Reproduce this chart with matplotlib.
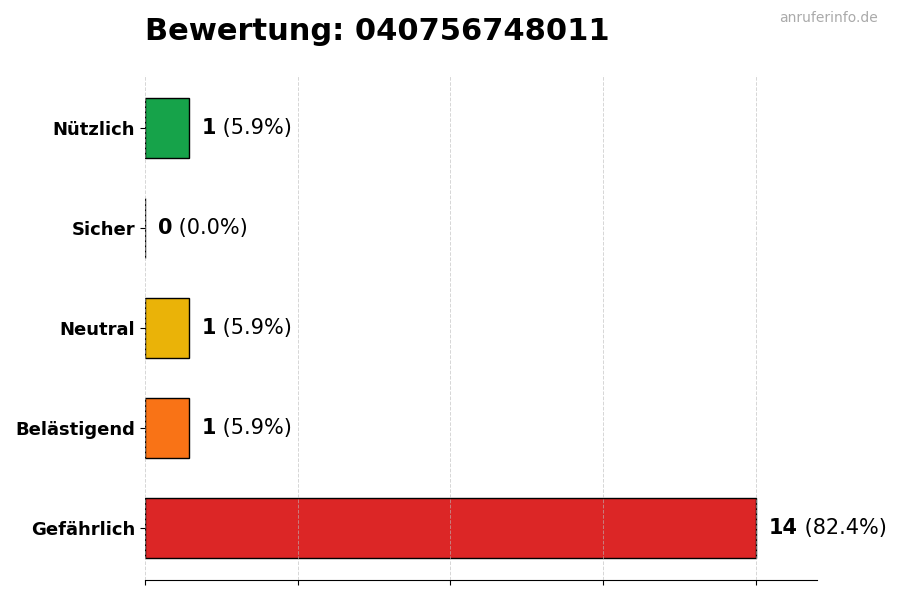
import matplotlib
matplotlib.use('Agg')
import matplotlib.pyplot as plt

categories = ['Gefährlich', 'Belästigend', 'Neutral', 'Sicher', 'Nützlich']
counts = [14, 1, 1, 0, 1]
colors = ['#dc2626', '#f97316', '#eab308', '#3b82f6', '#16a34a']
total = sum(counts)

fig = plt.figure(figsize=(9, 6), dpi=100)
ax = fig.add_axes([0.161, 0.033, 0.747, 0.842])

ax.barh(range(len(categories)), counts, height=0.6, color=colors,
        edgecolor='black', linewidth=1.0, zorder=2)

ax.set_yticks(range(len(categories)))
ax.set_yticklabels(categories, fontsize=13, fontweight='bold')
ax.set_ylim(-0.52, 4.53)

xmax = max(counts)
ax.set_xlim(0, xmax * 1.1)
ax.set_xticks([xmax * i / 4 for i in range(5)])
ax.set_xticklabels([])
# grid is drawn over the bars in the original
ax.set_axisbelow(False)
ax.grid(axis='x', linestyle='--', color='#bbbbbb', alpha=0.6,
        linewidth=0.7)

for s in ['top', 'right', 'left']:
    ax.spines[s].set_visible(False)

# value labels: bold count, then percentage
for i, c in enumerate(counts):
    pct = 100 * c / total
    t = ax.text(c + 0.3, i, str(c), fontsize=15, fontweight='bold',
                va='center', ha='left')
    ax.annotate(f' ({pct:.1f}%)', xy=(1, 0), xycoords=t, fontsize=15,
                va='bottom', ha='left')

fig.text(0.161, 0.948, 'Bewertung: 040756748011', fontsize=22,
         fontweight='bold', va='center', ha='left')
fig.text(0.975, 0.97, 'anruferinfo.de', fontsize=10, color='#aaaaaa',
         va='center', ha='right')

fig.savefig('out.png', dpi=100)
